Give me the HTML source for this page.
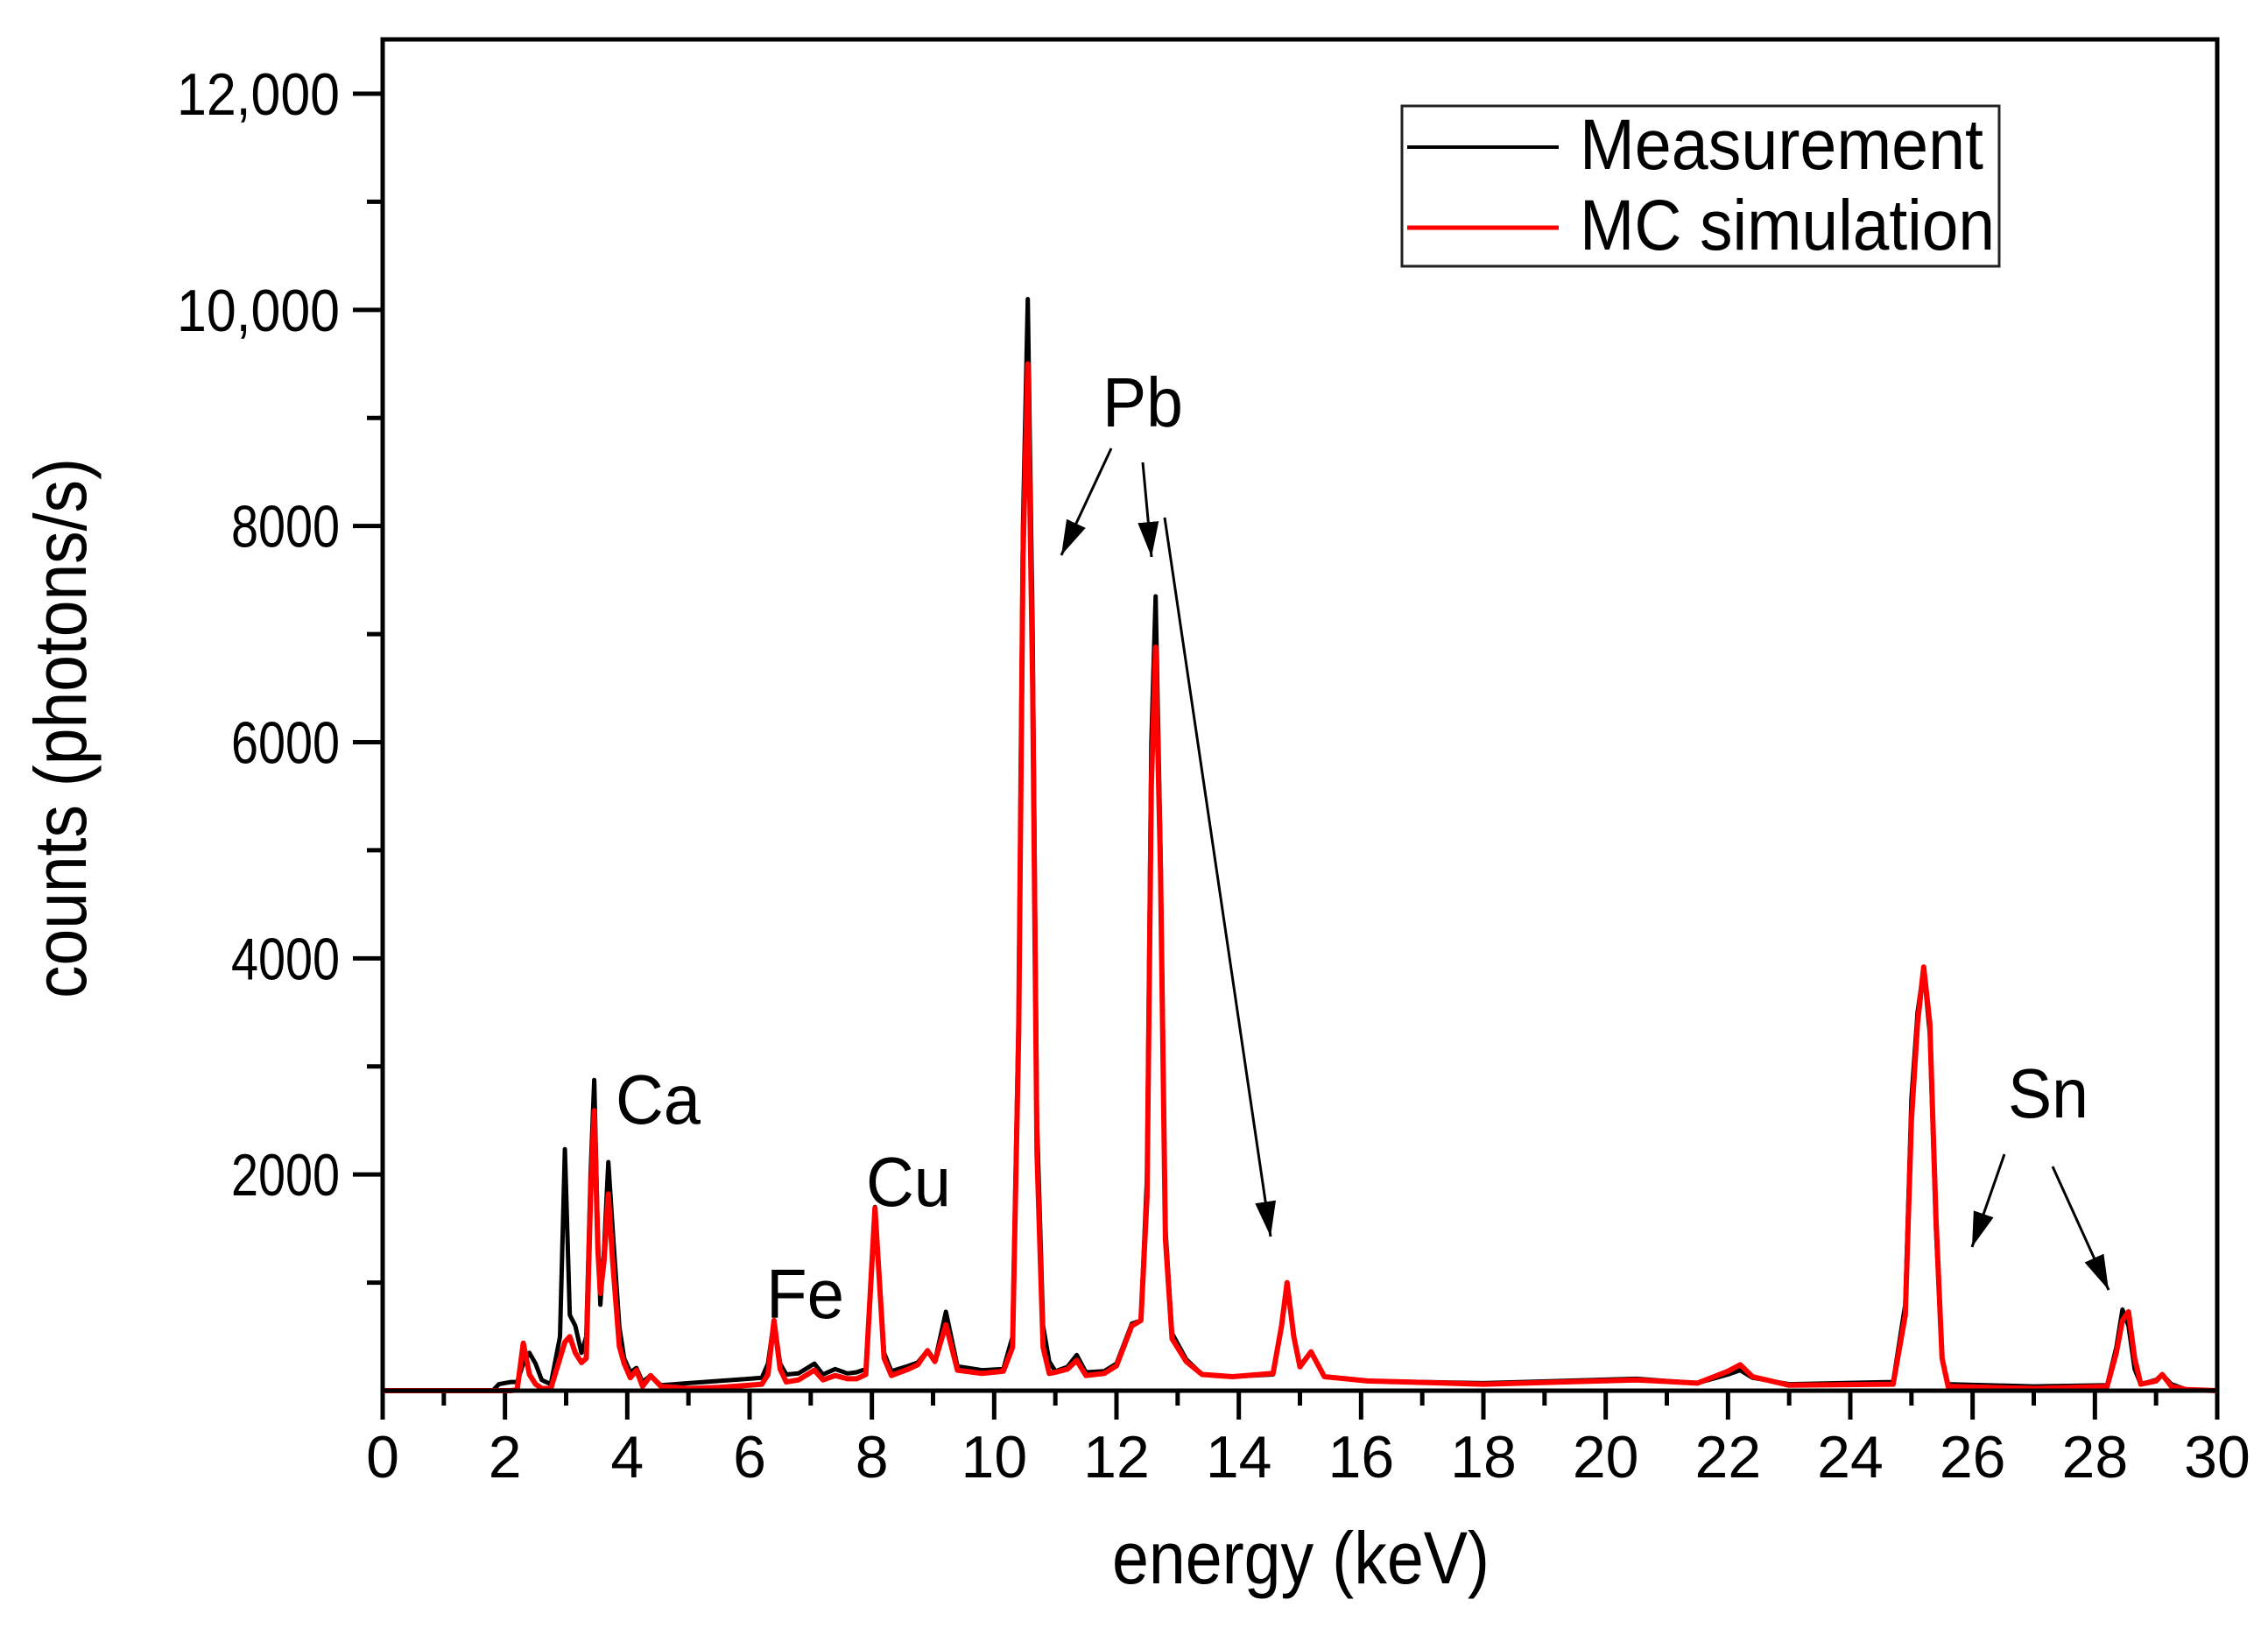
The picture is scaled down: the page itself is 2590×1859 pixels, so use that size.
<!DOCTYPE html>
<html><head><meta charset="utf-8"><style>
html,body{margin:0;padding:0;background:#fff}
svg{display:block}
text{font-family:"Liberation Sans",Arial,sans-serif;fill:#000}
</style></head><body>
<svg id="chart" width="2590" height="1859" viewBox="0 0 2590 1859" xmlns="http://www.w3.org/2000/svg">
<defs><marker id="ah" markerWidth="40" markerHeight="24" refX="40" refY="12" orient="auto" markerUnits="userSpaceOnUse" viewBox="0 0 40 24"><path d="M0,0 L40,12 L0,24 z" fill="#000"/></marker></defs>
<g id="ticks"></g>
<g id="series"></g>
<rect x="437" y="45" width="2095" height="1543" fill="none" stroke="#000" stroke-width="5"/>
<text x="1270" y="1808" font-size="84" textLength="431" lengthAdjust="spacingAndGlyphs">energy (keV)</text>
<text transform="translate(98,1140) rotate(-90)" font-size="84" textLength="617" lengthAdjust="spacingAndGlyphs">counts (photons/s)</text>
<g>
<rect x="1601" y="121" width="682" height="183" fill="#fff" stroke="#222" stroke-width="3"/>
<line x1="1607" y1="168" x2="1780" y2="168" stroke="#000" stroke-width="4"/>
<text x="1804" y="193" font-size="82" textLength="461" lengthAdjust="spacingAndGlyphs">Measurement</text>
<line x1="1607" y1="260" x2="1780" y2="260" stroke="#f00" stroke-width="5"/>
<text x="1804" y="285" font-size="82" textLength="474" lengthAdjust="spacingAndGlyphs">MC simulation</text>
</g>
<g font-size="80">
<text x="703" y="1283" textLength="97" lengthAdjust="spacingAndGlyphs">Ca</text>
<text x="875" y="1505" textLength="89" lengthAdjust="spacingAndGlyphs">Fe</text>
<text x="989" y="1377" textLength="97" lengthAdjust="spacingAndGlyphs">Cu</text>
<text x="1259" y="487" textLength="92" lengthAdjust="spacingAndGlyphs">Pb</text>
<text x="2293" y="1276" textLength="92" lengthAdjust="spacingAndGlyphs">Sn</text>
</g>
<g stroke="#000" stroke-width="3">
<line x1="1269" y1="512" x2="1212" y2="634" marker-end="url(#ah)"/>
<line x1="1305" y1="528" x2="1315" y2="636" marker-end="url(#ah)"/>
<line x1="1330" y1="591" x2="1451" y2="1412" marker-end="url(#ah)"/>
<line x1="2289" y1="1318" x2="2252" y2="1424" marker-end="url(#ah)"/>
<line x1="2344" y1="1332" x2="2408" y2="1473" marker-end="url(#ah)"/>
</g>
</svg>
<script>
const energy=[0,1.8,1.9,2.1,2.2,2.3,2.4,2.5,2.6,2.75,2.9,2.98,3.06,3.15,3.25,3.33,3.4,3.46,3.52,3.56,3.62,3.69,3.76,3.87,3.95,4.05,4.15,4.25,4.38,4.55,5.0,5.5,6.0,6.2,6.3,6.4,6.5,6.6,6.8,7.06,7.2,7.4,7.6,7.75,7.9,8.05,8.2,8.32,8.6,8.75,8.91,9.03,9.21,9.4,9.8,10.15,10.3,10.4,10.47,10.55,10.63,10.7,10.8,10.9,11.0,11.2,11.35,11.5,11.8,12.0,12.25,12.4,12.5,12.57,12.64,12.72,12.8,12.91,13.14,13.4,13.9,14.56,14.7,14.79,14.9,15.0,15.18,15.4,16.1,18,20.5,21.5,22.0,22.2,22.4,23,24.7,24.9,25.0,25.1,25.2,25.3,25.4,25.5,25.6,27,28.2,28.35,28.45,28.55,28.65,28.75,29.0,29.1,29.25,29.5,30];
const measurement=[0,0,60,80,80,250,350,250,100,60,500,2235,700,600,350,500,2000,2875,1400,795,1300,2115,1500,590,300,170,210,80,140,50,70,90,110,120,250,650,250,150,160,250,150,200,160,170,200,1700,350,180,230,260,370,270,730,225,190,200,500,3500,8000,10100,7000,2500,600,270,180,220,330,170,180,250,620,650,2000,6000,7350,5000,1500,530,290,150,130,150,600,1000,500,230,360,130,90,70,110,70,150,190,120,60,80,800,2700,3500,3900,3300,1500,300,60,40,50,400,750,600,200,60,100,150,60,10,0];
const simulation=[0,0,0,0,10,440,150,60,20,20,300,450,500,350,260,300,1800,2590,1300,900,1200,1820,1200,410,250,120,190,40,140,40,20,30,50,60,150,650,200,80,100,190,100,140,110,110,150,1690,300,140,200,240,370,270,610,190,160,180,400,3300,7700,9500,6500,2200,400,160,170,200,280,140,160,230,600,650,1800,5600,6880,4800,1400,480,270,150,130,160,600,1000,500,220,360,130,90,60,100,70,180,240,130,50,60,700,2500,3400,3920,3400,1600,300,40,20,40,350,650,730,300,60,90,150,40,10,0];
const xTickLabels=["0","2","4","6","8","10","12","14","16","18","20","22","24","26","28","30"];
const yTickValues=[2000,4000,6000,8000,10000,12000];
const yTickLabels=["2000","4000","6000","8000","10,000","12,000"];

const NS="http://www.w3.org/2000/svg";
const X0=437,X1=2532,Y0=1588,Y1=107;
function xs(e){return X0+(X1-X0)*e/30;}
function ys(v){return Y0-(Y0-Y1)*v/12000;}
const ticks=document.getElementById('ticks');
const series=document.getElementById('series');
function mk(tag,attrs,parent){const el=document.createElementNS(NS,tag);for(const k in attrs)el.setAttribute(k,attrs[k]);parent.appendChild(el);return el;}
for(let k=0;k<=30;k++){
  const x=xs(k),major=k%2===0;
  const t=mk('line',{x1:x,y1:Y0,x2:x,y2:Y0+(major?33:17),stroke:'#000','stroke-width':5},ticks);
  
  
}
xTickLabels.forEach((lab,i)=>{
  const t=mk('text',{x:xs(i*2),y:1687,'font-size':68,'text-anchor':'middle'},ticks);
  t.textContent=lab;
  
  
});
for(let v=1000;v<=12000;v+=1000){
  const y=ys(v),major=v%2000===0;
  const t=mk('line',{x1:X0-(major?34:18),y1:y,x2:X0,y2:y,stroke:'#000','stroke-width':5},ticks);
  
  
}
yTickValues.forEach((v,i)=>{
  const lab=yTickLabels[i];
  const t=mk('text',{x:388,y:ys(v)+24,'font-size':68,'text-anchor':'end',textLength:lab.length*31,lengthAdjust:'spacingAndGlyphs'},ticks);
  t.textContent=lab;
  
  
});
function pts(vals){return energy.map((e,i)=>xs(e).toFixed(1)+','+ys(vals[i]).toFixed(1)).join(' ');}
const m=mk('polyline',{points:pts(measurement),fill:'none',stroke:'#000','stroke-width':5,'stroke-linejoin':'round'},series);


const s=mk('polyline',{points:pts(simulation),fill:'none',stroke:'#f00','stroke-width':6,'stroke-linejoin':'round'},series);


</script>
</body></html>
